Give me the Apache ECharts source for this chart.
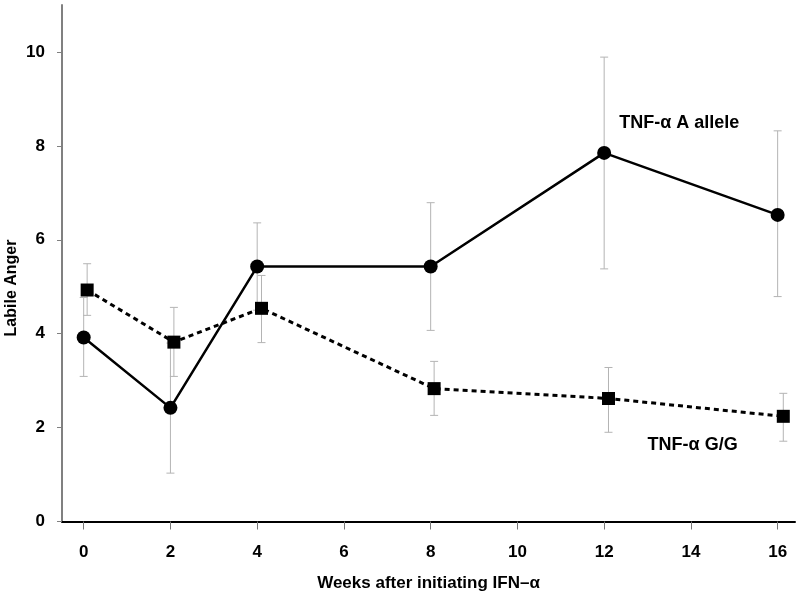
<!DOCTYPE html>
<html>
<head>
<meta charset="utf-8">
<script src="https://cdn.jsdelivr.net/npm/echarts@6/dist/echarts.min.js"></script>
<style>html,body{margin:0;padding:0;background:#fff}#c{width:800px;height:599px}</style>
</head>
<body>
<div id="c"></div>
<script>
// Weeks after initiating IFN-α
const weeksA = [0, 2, 4, 8, 12, 16];
const weeksGG = [0.08, 2.08, 4.1, 8.08, 12.1, 16.13];
const xTicks = [0, 2, 4, 6, 8, 10, 12, 14, 16];
const yTicks = [0, 2, 4, 6, 8, 10];
// TNF-α A allele
const meanA = [3.92, 2.42, 5.43, 5.43, 7.85, 6.53];
const lowA  = [3.09, 1.03, 4.50, 4.07, 5.38, 4.79];
const highA = [4.77, 3.80, 6.36, 6.79, 9.89, 8.32];
// TNF-α G/G
const meanGG = [4.93, 3.82, 4.54, 2.83, 2.62, 2.24];
const lowGG  = [4.39, 3.09, 3.81, 2.26, 1.90, 1.71];
const highGG = [5.49, 4.56, 5.24, 3.41, 3.28, 2.73];
const labelA = 'TNF-\u03b1 A allele';
const labelGG = 'TNF-\u03b1 G/G';
const labelAPos = [13.73, 8.49];
const labelGGPos = [14.04, 1.63];

const fontB = "'Liberation Sans',Arial,sans-serif";

function errData(xs, lo, hi) { return xs.map((x, i) => [x, lo[i], hi[i]]); }
function renderErr(params, api) {
  const x = api.value(0);
  const p1 = api.coord([x, api.value(1)]);
  const p2 = api.coord([x, api.value(2)]);
  const w = 4;
  const st = { stroke: '#b4b4b4', lineWidth: 1 };
  return { type: 'group', children: [
    { type: 'line', shape: { x1: p1[0], y1: p1[1], x2: p2[0], y2: p2[1] }, style: st },
    { type: 'line', shape: { x1: p1[0]-w, y1: p1[1], x2: p1[0]+w, y2: p1[1] }, style: st },
    { type: 'line', shape: { x1: p2[0]-w, y1: p2[1], x2: p2[0]+w, y2: p2[1] }, style: st }
  ]};
}
function textMark(pos, text) {
  return {
    symbol: 'rect', symbolSize: 1, silent: true,
    itemStyle: { color: 'rgba(0,0,0,0)' },
    data: [{ coord: pos, value: text }],
    label: { show: true, formatter: text, position: 'inside', fontFamily: fontB, fontWeight: 'bold', fontSize: 18, color: '#000' }
  };
}

const chart = echarts.init(document.getElementById('c'), null, { renderer: 'canvas' });
chart.setOption({
  animation: false,
  backgroundColor: '#fff',
  grid: { left: 62, right: 5, top: 5, bottom: 77.5 },
  xAxis: {
    type: 'value', min: -0.5, max: 16.4,
    name: 'Weeks after initiating IFN\u2013\u03b1', nameLocation: 'middle', nameGap: 53,
    nameTextStyle: { fontFamily: fontB, fontWeight: 'bold', fontSize: 17, color: '#000' },
    axisLine: { onZero: false, lineStyle: { color: '#000', width: 2 } },
    axisTick: { show: true, length: 8, lineStyle: { color: '#777', width: 1 }, customValues: xTicks },
    axisLabel: { customValues: xTicks, margin: 22, fontFamily: fontB, fontWeight: 'bold', fontSize: 17, color: '#000' },
    splitLine: { show: false }
  },
  yAxis: {
    type: 'value', min: 0, max: 11,
    axisLine: { show: true, onZero: false, lineStyle: { color: '#808080', width: 2 } },
    axisTick: { show: true, length: 5, lineStyle: { color: '#808080', width: 1 }, customValues: yTicks },
    axisLabel: { customValues: yTicks, margin: 17, fontFamily: fontB, fontWeight: 'bold', fontSize: 17, color: '#000' },
    splitLine: { show: false }
  },
  graphic: [{
    type: 'text', x: 12, y: 288, rotation: Math.PI / 2,
    style: { text: 'Labile Anger', fontFamily: fontB, fontWeight: 'bold', fontSize: 16, fill: '#000', align: 'center', verticalAlign: 'middle' }
  }],
  series: [
    { type: 'custom', renderItem: renderErr, data: errData(weeksA, lowA, highA), z: 1, silent: true },
    { type: 'custom', renderItem: renderErr, data: errData(weeksGG, lowGG, highGG), z: 1, silent: true },
    {
      type: 'line', data: weeksGG.map((x, i) => [x, meanGG[i]]), z: 3,
      symbol: 'rect', symbolSize: 13, itemStyle: { color: '#000' },
      lineStyle: { color: '#000', width: 3, type: [5, 4] },
      markPoint: textMark(labelGGPos, labelGG)
    },
    {
      type: 'line', data: weeksA.map((x, i) => [x, meanA[i]]), z: 4,
      symbol: 'circle', symbolSize: 14, itemStyle: { color: '#000' },
      lineStyle: { color: '#000', width: 2.5 },
      markPoint: textMark(labelAPos, labelA)
    }
  ]
});
</script>
</body>
</html>
